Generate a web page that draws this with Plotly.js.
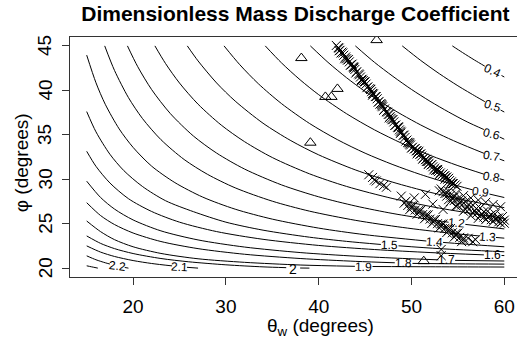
<!DOCTYPE html>
<html><head><meta charset="utf-8">
<script src="https://cdn.plot.ly/plotly-3.0.1.min.js"></script>
<style>html,body{margin:0;padding:0;overflow:hidden;background:#fff}#chart{width:521px;height:346px}</style>
</head><body><div id="chart"></div>
<script>
// Contour levels and the lines (null = gap where the label sits)
const contourLevels = [0.4,0.5,0.6,0.7,0.8,0.9,1.0,1.1,1.2,1.3,1.4,1.5,1.6,1.7,1.8,1.9,2.0,2.1,2.2,2.3];
const contourTheta = [
 [54.4,55.5,56.8,57.9,null,59.7,60],
 [49,51,53,55,57,57.9,null,59.6,60],
 [43.95,46,48,50,52,54,56,57.8,null,59.5,60],
 [39.1,41,43,45,47,49,51,53,55,57.8,null,59.5,60],
 [34.24,36,38,40,43,46,49,52,55,57.8,null,59.5,60],
 [29.8,31.5,33.5,36,39,42,45,48,51,54,56.6,null,58.4,60],
 [25.84,27,29,31,34,37,40,44,48,52,56,60],
 [22.35,23.5,25,27,29.5,32,35,39,43,48,53,60],
 [19.39,20.5,22,24,26.5,29,32,36,40,44,48,52,54.0,null,55.8,60],
 [16.94,18,19.5,21,23,25.5,28,31,35,39,44,49,54,57.3,null,59.1,60],
 [15,16,17,18.5,20,22,24.5,27.5,31,35,40,45,51.6,null,53.4,57,60],
 [15,16,17.5,19,21,23.5,26.5,30,34,39,43,46.7,null,48.6,53,60],
 [15,16,17.5,19.5,22,25,29,34,40,46,52,57.8,null,59.7,60],
 [15,16.5,18,20,23,27,32,38,44,49,52.9,null,54.7,60],
 [15,16.5,18,20,23,27,32,38,44,48.2,null,50.1,55,60],
 [15,16.5,18,20,23,27,32,38,43.9,null,45.8,52,60],
 [15,16.5,18,20,23,26,30,34,36.5,null,38.0,39.0],
 [15,16.5,18,20,22,24.2,null,25.8,27],
 [15,16,17,17.5,null,19.1,19.5],
 [15,15.5,16.2]
];
const contourPhi = [
 [45,44.25,43.4,42.72,null,41.67,41.5],
 [45,43.36,41.87,40.51,39.27,38.73,null,37.78,37.56],
 [45,43.16,41.57,40.1,38.77,37.56,36.45,35.59,null,34.75,34.5],
 [45,43.15,41.42,39.87,38.49,37.24,36.1,35.07,34.12,32.92,null,32.26,32.07],
 [45,43.08,41.18,39.51,37.37,35.56,34.02,32.69,31.53,30.57,null,30.05,29.9],
 [45,42.88,40.74,38.5,36.28,34.46,32.93,31.64,30.52,29.55,28.8,null,28.33,27.94],
 [45,43.31,40.83,38.79,36.3,34.34,32.74,31.03,29.66,28.53,27.6,26.8],
 [45,43.01,40.82,38.44,36.09,34.23,32.44,30.61,29.19,27.82,26.75,25.6],
 [45,42.66,40.08,37.4,34.86,32.94,31.15,29.36,28.02,26.98,26.14,25.46,25.16,null,24.92,24.41],
 [45,42.23,39.18,36.84,34.45,32.22,30.56,29.03,27.53,26.41,25.37,24.58,23.95,23.62,null,23.45,23.37],
 [43.96,40.85,38.43,35.66,33.58,31.47,29.62,27.99,26.63,25.51,24.5,23.76,23.05,null,22.89,22.61,22.4],
 [37.61,35.33,32.81,30.97,29.19,27.58,26.35,25.17,24.27,23.48,23.01,22.66,null,22.51,22.19,21.84],
 [33.14,31.45,29.58,27.81,26.37,25.17,24.11,23.24,22.55,22.09,21.75,21.49,null,21.42,21.41],
 [29.78,27.94,26.64,25.42,24.19,23.17,22.37,21.75,21.34,21.09,20.93,null,20.87,20.8],
 [27.36,25.91,24.9,23.95,22.99,22.19,21.56,21.08,20.76,20.6,null,20.53,20.48,20.45],
 [25.3,24.1,23.2,22.4,21.65,21.05,20.65,20.35,20.2,null,20.18,20.15,20.12],
 [23.62,22.78,22.19,21.64,21.08,20.71,20.37,20.14,20.05,null,20.01,20.0],
 [22.5,21.8,21.31,20.85,20.52,20.25,null,20.09,20.0],
 [21.38,20.94,20.6,20.46,null,20.07,20.0],
 [20.26,20.15,20.0]
];
// Contour labels (text, theta, phi) and their tilt
const labelText  = ['0.4','0.5','0.6','0.7','0.8','0.9','1.2','1.3','1.4','1.5','1.6','1.7','1.8','1.9','2','2.1','2.2'];
const labelTheta = [58.78,58.75,58.64,58.67,58.67,57.48,54.89,58.2,52.5,47.64,58.75,53.8,49.15,44.82,37.26,25.0,18.3];
const labelPhi   = [42.2,38.25,35.12,32.58,30.3,28.57,25.04,23.53,22.97,22.58,21.46,20.9,20.56,20.17,19.95,20.17,20.26];
const labelTilt  = [25,18,14,10,10,8,5,4,3,2,0,0,2,1,0,3,6];

// Observations drawn as crosses
const crossTheta = [
 41.9,42.1,42.3,42.5,42.7,42.9,43.1,43.3,43.5,43.7,43.9,44.1,44.3,44.5,44.7,44.9,45.1,45.3,45.5,45.7,45.9,46.1,46.3,46.5,46.7,46.9,47.1,47.3,47.5,47.7,47.9,48.1,48.3,48.5,48.7,48.9,49.1,49.3,49.5,49.7,49.9,50.1,50.3,50.5,50.7,50.9,51.1,51.3,51.5,51.7,51.9,52.1,52.3,52.5,52.7,52.9,53.1,53.3,53.5,53.7,53.9,54.1,54.3,54.5,54.7,54.9,
 42.4,43.6,44.6,45.6,46.6,47.6,48.6,49.6,50.6,51.6,52.6,53.6,54.4,
 42.2,43.0,43.8,44.8,45.8,46.8,47.8,48.8,49.8,50.8,51.8,52.8,53.8,
 42.2,42.8,43.4,44.0,44.6,45.2,45.8,46.4,47.0,47.6,48.2,48.8,49.4,50.0,50.6,51.2,51.8,52.4,53.0,53.6,54.2,
 42.6,43.2,43.8,44.4,45.0,45.6,46.2,46.8,47.4,48.0,48.6,49.2,49.8,50.4,51.0,51.6,52.2,52.8,53.4,54.0,
 53.2,54.0,54.8,55.6,56.4,57.2,58.0,58.8,59.6,
 53.4,54.2,55.0,55.8,56.6,57.4,58.2,59.0,59.8,
 53.0,53.8,54.6,55.4,56.2,57.0,57.8,58.6,59.4,60.0,
 54.0,54.8,55.6,56.4,57.2,58.0,58.8,59.6,
 53.6,54.4,55.2,56.0,56.8,57.6,58.4,59.2,60.0,
 53.8,54.6,55.4,56.2,57.0,57.8,58.6,59.4,
 54.2,55.0,55.8,56.6,57.4,58.2,59.0,59.8,
 49.2,49.6,50.0,50.4,50.8,51.2,51.6,52.0,52.4,52.8,53.2,53.6,54.0,54.4,54.8,55.2,55.6,
 49.4,50.2,51.0,51.8,52.6,53.4,54.2,55.0,
 49.8,50.6,51.4,52.2,53.0,53.8,54.6,55.4,
 50.0,50.8,51.6,52.4,53.2,54.0,54.8,55.6,
 48.9,50.3,51.5,52.3,53.4,
 56.1,56.6,56.9,53.2,53.2,
 45.4,45.8,46.2,46.6,47.0,47.3,46.0
];
const crossPhi = [
 45.05,44.8,44.5,44.3,43.95,43.75,43.4,43.2,42.9,42.65,42.35,42.1,41.85,41.5,41.25,40.95,40.7,40.4,40.2,39.85,39.6,39.3,39.05,38.75,38.5,38.15,37.9,37.6,37.3,37.05,36.7,36.45,36.1,35.85,35.55,35.3,34.95,34.7,34.4,34.1,33.85,33.6,33.4,33.2,33.0,32.8,32.6,32.4,32.2,32.0,31.8,31.6,31.4,31.25,31.05,30.85,30.7,30.5,30.35,30.2,30.0,29.85,29.7,29.5,29.35,29.2,
 44.2,42.95,41.2,40.1,38.45,37.3,35.9,34.15,33.2,32.0,31.0,30.4,29.5,
 44.75,43.55,42.5,41.1,39.65,38.25,36.85,35.4,33.95,33.15,32.0,31.0,30.25,
 44.45,43.55,42.8,41.95,41.1,40.3,39.45,38.65,37.75,36.9,36.05,35.15,34.3,33.5,32.85,32.25,31.65,31.05,30.5,30.0,29.5,
 44.2,43.45,42.6,41.75,40.95,40.1,39.3,38.4,37.55,36.7,35.8,34.95,34.1,33.45,32.85,32.25,31.65,31.1,30.6,30.1,
 28.9,28.65,28.4,28.15,27.9,27.65,27.4,27.15,26.9,
 28.6,28.2,27.8,27.45,27.1,26.75,26.4,26.1,25.8,
 28.7,28.1,27.6,27.1,26.6,26.15,25.75,25.45,25.2,25.05,
 27.7,27.0,26.4,25.9,25.6,25.45,25.25,25.05,
 28.4,27.9,27.4,26.95,26.5,26.1,25.85,25.6,25.4,
 28.45,28.0,27.55,27.15,26.7,26.35,26.0,25.65,
 27.5,27.05,26.6,26.2,25.9,25.7,25.5,25.25,
 27.3,27.05,26.8,26.54,26.28,26.02,25.77,25.51,25.25,25.0,24.74,24.48,24.23,23.97,23.71,23.46,23.2,
 27.52,27.02,26.5,25.99,25.48,24.96,24.45,23.94,
 26.57,26.06,25.55,25.03,24.52,24.0,23.49,22.98,
 27.0,26.5,26.0,25.45,24.95,24.45,23.9,23.4,
 28.1,27.9,28.3,27.2,26.6,
 23.35,22.97,23.2,22.1,21.4,
 30.5,30.2,29.8,29.5,29.3,29.1,29.9
];
// Observations drawn as open triangles
const triTheta = [38.13,46.24,40.72,41.37,42.02,39.1,51.32];
const triPhi   = [43.63,45.65,39.26,39.26,40.16,34.11,20.78];

const xTicks = [20,30,40,50,60];
const yTicks = [20,25,30,35,40,45];

const FONT = 'Liberation Sans, Arial, Helvetica, sans-serif';
const traces = [];
contourLevels.forEach((lv, i) => {
  traces.push({x: contourTheta[i], y: contourPhi[i], type: 'scatter', mode: 'lines',
    line: {color: '#000', width: 1, shape: 'spline', smoothing: 0.8}, connectgaps: false,
    hoverinfo: 'skip', showlegend: false, name: String(lv)});
});
traces.push({x: crossTheta, y: crossPhi, type: 'scatter', mode: 'markers',
  marker: {symbol: 'x-thin-open', size: 9, color: '#000', line: {color: '#000', width: 1}}, showlegend: false});
traces.push({x: triTheta, y: triPhi, type: 'scatter', mode: 'markers',
  marker: {symbol: 'triangle-up-open', size: 10, color: '#000', line: {color: '#000', width: 1}}, showlegend: false});

const annotations = labelText.map((t, i) => ({
  x: labelTheta[i], y: labelPhi[i], xref: 'x', yref: 'y', text: t, showarrow: false,
  textangle: labelTilt[i], xanchor: 'center', yanchor: 'middle',
  font: {family: FONT, size: t === '2' ? 14 : 12, color: '#000'}
}));
// y tick labels, rotated as in the reference
yTicks.forEach(v => annotations.push({xref: 'paper', yref: 'y', x: -0.055, y: v, text: String(v),
  textangle: -90, showarrow: false, xanchor: 'center', yanchor: 'middle',
  font: {family: FONT, size: 19, color: '#000'}}));
annotations.push({xref: 'paper', yref: 'paper', x: 0.555, y: -0.21, xanchor: 'center', yanchor: 'middle',
  text: 'θ<sub>w</sub> (degrees)', showarrow: false, font: {family: FONT, size: 19, color: '#000'}});
annotations.push({xref: 'paper', yref: 'paper', x: -0.107, y: 0.477, xanchor: 'center', yanchor: 'middle',
  text: 'φ (degrees)', textangle: -90, showarrow: false, font: {family: FONT, size: 19, color: '#000'}});

const layout = {
  width: 521, height: 346,
  margin: {l: 70, r: 0, t: 37, b: 69},
  paper_bgcolor: '#fff', plot_bgcolor: '#fff',
  title: {text: '<b>Dimensionless Mass Discharge Coefficient</b>', font: {family: FONT, size: 21, color: '#000'},
    x: 0.567, xref: 'container', xanchor: 'center', y: 1 - 14/346, yref: 'container', yanchor: 'middle'},
  xaxis: {range: [13.2, 61.8], tickvals: xTicks, ticktext: xTicks.map(String), ticks: 'outside', ticklen: 7,
    tickwidth: 1, tickcolor: '#333', showline: true, mirror: true, linecolor: '#333', linewidth: 1,
    showgrid: false, zeroline: false, ticklabelstandoff: 5,
    tickfont: {family: FONT, size: 19, color: '#000'}},
  yaxis: {range: [19, 46], tickvals: yTicks, showticklabels: false, ticks: 'outside', ticklen: 7,
    tickwidth: 1, tickcolor: '#333', showline: true, mirror: true, linecolor: '#333', linewidth: 1,
    showgrid: false, zeroline: false},
  annotations: annotations
};
Plotly.newPlot('chart', traces, layout, {staticPlot: true, displayModeBar: false});
</script>
</body></html>
